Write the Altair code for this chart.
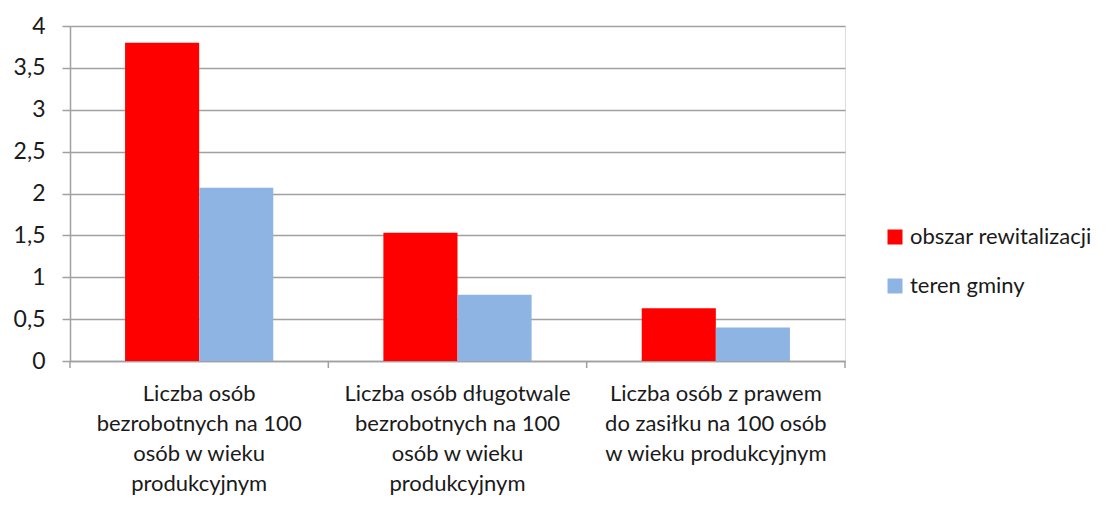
import altair as alt
import pandas as pd

categories = [
    ["Liczba osób", "bezrobotnych na 100", "osób w wieku", "produkcyjnym"],
    ["Liczba osób długotwale", "bezrobotnych na 100", "osób w wieku", "produkcyjnym"],
    ["Liczba osób z prawem", "do zasiłku na 100 osób", "w wieku produkcyjnym"],
]
series = ["obszar rewitalizacji", "teren gminy"]
obszar = [3.80, 1.53, 0.63]
teren = [2.07, 0.79, 0.40]
y_ticks = [0, 0.5, 1, 1.5, 2, 2.5, 3, 3.5, 4]
colors = ["#FF0000", "#8EB4E3"]

cat_keys = ["|".join(c) for c in categories]
rows = []
for k, a, b in zip(cat_keys, obszar, teren):
    rows.append({"cat": k, "series": series[0], "value": a})
    rows.append({"cat": k, "series": series[1], "value": b})
df = pd.DataFrame(rows)
cat_df = pd.DataFrame({"cat": cat_keys})

FONT = "Lato"
TXT = "#1a1a1a"
GRID = "#a0a0a0"
W, H = 775, 335

xscale = alt.Scale(domain=cat_keys, paddingInner=0, paddingOuter=0)

bars = alt.Chart(df).mark_bar(stroke=None).encode(
    x=alt.X("cat:N", scale=xscale, sort=cat_keys, title=None,
            axis=alt.Axis(labelExpr="split(datum.label, '|')", labelAngle=0,
                          ticks=False, domain=True, domainColor=GRID, domainWidth=1.5,
                          labelFont=FONT, labelFontSize=22, labelColor=TXT,
                          labelPadding=22, labelLineHeight=30, labelBaseline="top",
                          labelLimit=400, grid=False)),
    xOffset=alt.XOffset("series:N", sort=series,
                        scale=alt.Scale(domain=series, paddingInner=0, paddingOuter=0.743)),
    y=alt.Y("value:Q", scale=alt.Scale(domain=[0, 4], nice=False), title=None,
            axis=alt.Axis(values=y_ticks, labelExpr="replace(toString(datum.value), '.', ',')",
                          grid=True, gridColor=GRID, gridWidth=1.5,
                          ticks=True, tickSize=8, tickColor=GRID, tickWidth=1.5,
                          domain=True, domainColor=GRID, domainWidth=1.5,
                          labelFont=FONT, labelFontSize=23, labelColor=TXT, labelPadding=17)),
    color=alt.Color("series:N", sort=series,
                    scale=alt.Scale(domain=series, range=colors),
                    legend=alt.Legend(title=None, orient="none", legendX=814, legendY=200,
                                      symbolType="square", symbolSize=225, symbolStrokeWidth=0,
                                      labelFont=FONT, labelFontSize=22, labelColor=TXT,
                                      labelLimit=400, rowPadding=27, labelOffset=4)),
)

ticks = alt.Chart(cat_df).mark_rule(color=GRID, strokeWidth=1.5).encode(
    x=alt.X("cat:N", scale=xscale, sort=cat_keys, bandPosition=0),
    y=alt.value(H), y2=alt.value(H + 7),
)
end_tick = alt.Chart(cat_df.head(1)).mark_rule(color=GRID, strokeWidth=1.5).encode(
    x=alt.value(W), y=alt.value(H), y2=alt.value(H + 7),
)

chart = alt.layer(bars, ticks, end_tick).properties(
    width=W, height=H,
    padding={"left": 62, "top": 18, "right": 263, "bottom": 134},
    autosize=alt.AutoSizeParams(type="none"),
).configure_view(stroke=None).configure(background="white")

chart.save("out.html", embed_options={"renderer": "svg", "actions": False})
